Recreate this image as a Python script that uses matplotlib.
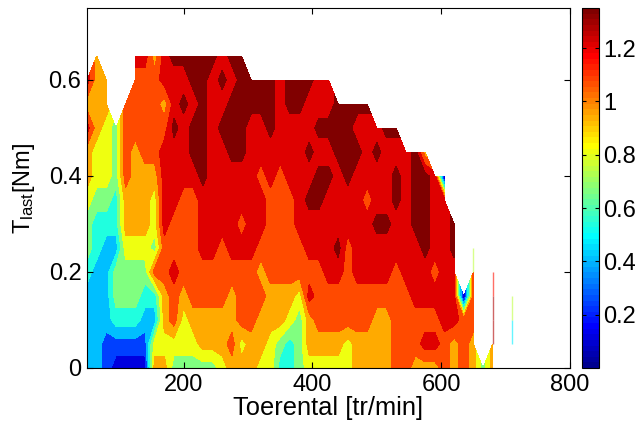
import matplotlib
matplotlib.use('Agg')
import matplotlib.pyplot as plt
import numpy as np
from matplotlib.cm import ScalarMappable
from matplotlib.colors import ListedColormap, Normalize

plt.rcParams['font.family'] = ['Liberation Sans', 'DejaVu Sans']
plt.rcParams['mathtext.default'] = 'regular'

nan = np.nan

speed = np.arange(50, 725, 15)
torque = np.arange(0, 0.70, 0.05)

# efficiency map, one row per torque step
r000 = [.47,.47,.34,.20,.20,.20,.20,1.01,1.01,.74,.74,.74,.74,.74,.88,1.01,1.01,1.01,.88,.88,.61,.61,.74,.88,.88,
        .88,.88,.88,1.01,1.01,1.01,1.01,1.15,1.15,1.01,1.01,1.01,1.15,1.01,1.15,1.01,.74,1.01,nan,nan]
r005 = [.47,.47,.34,.34,.34,.34,.34,.88,.88,.88,.88,.88,1.01,1.01,1.01,1.15,.88,1.01,1.01,.88,.74,.61,.74,1.01,1.01,
        1.01,1.01,.88,1.01,1.01,1.01,1.01,1.15,1.15,1.15,1.28,1.28,1.15,1.01,1.15,1.01,nan,1.01,nan,.34]
r010 = [.47,.47,.47,.61,.61,.61,.47,.47,1.01,1.15,.88,1.01,1.01,1.01,1.01,1.01,1.15,1.15,1.01,1.01,1.01,.88,.74,1.01,1.15,
        1.15,1.15,1.15,1.15,1.15,1.01,1.01,1.15,1.15,1.15,1.15,1.15,1.28,1.28,1.15,1.15,nan,1.28,nan,.47]
r015 = [.47,.47,.47,.74,.74,.74,.61,.61,1.01,1.15,1.01,1.15,1.15,1.15,1.15,1.01,1.15,1.15,1.15,1.01,1.01,1.01,.88,1.28,1.15,
        1.15,1.15,1.15,1.15,1.15,1.15,1.15,1.15,1.15,1.28,1.28,1.28,1.28,1.28,.07,1.15,nan,1.28,nan,.74]
r020 = [.61,.47,.47,.74,.74,.74,.74,1.15,1.15,1.28,1.15,1.15,1.15,1.15,1.15,1.15,1.15,1.15,1.01,1.15,1.15,1.15,1.15,1.15,1.15,
        1.28,1.28,1.15,1.28,1.28,1.28,1.28,1.15,1.28,1.28,1.28,1.15,1.28,1.28,nan,1.15,nan,1.15,nan,nan]
r025 = [.74,.61,.47,.47,.88,.88,.88,.74,1.15,1.15,1.15,1.15,1.28,1.28,1.15,1.28,1.28,1.28,1.15,1.15,1.15,1.15,1.15,1.28,1.28,
        1.28,1.40,1.15,1.28,1.28,1.28,1.28,1.28,1.28,1.28,1.40,1.28,1.28,1.40,nan,.74,nan,nan,nan,nan]
r030 = [.74,.61,.61,.61,1.01,1.01,1.01,.88,1.28,1.15,1.15,1.15,1.28,1.28,1.28,1.28,1.15,1.28,1.28,1.15,1.15,1.15,1.28,1.28,1.28,
        1.28,1.28,1.28,1.28,1.28,1.40,1.40,1.28,1.28,1.40,1.40,1.28,1.28,1.40,nan,nan,nan,nan,nan,nan]
r035 = [.88,.74,.74,.61,1.01,1.01,1.01,.88,1.28,1.28,1.15,1.15,1.28,1.28,1.28,1.28,1.28,1.28,1.28,1.15,1.15,1.15,1.28,1.40,1.40,
        1.28,1.28,1.28,1.28,1.15,1.28,1.28,1.40,1.28,1.40,1.40,1.28,1.28,nan,nan,nan,nan,nan,nan,nan]
r040 = [1.01,.88,.88,.74,1.15,1.01,1.01,1.01,1.28,1.28,1.28,1.28,1.40,1.28,1.28,1.28,1.28,1.28,1.15,1.28,1.15,1.28,1.28,1.28,1.40,
        1.40,1.28,1.40,1.28,1.28,1.28,1.28,1.40,1.28,1.40,1.40,1.28,.07,nan,nan,nan,nan,nan,nan,nan]
r045 = [1.01,.88,.88,.74,1.15,1.01,1.15,1.15,1.28,1.28,1.28,1.40,1.40,1.28,1.28,1.40,1.40,1.28,1.28,1.28,1.28,1.28,1.28,1.40,1.28,
        1.28,1.40,1.40,1.40,1.28,1.40,1.28,1.28,1.28,1.40,1.01,nan,nan,nan,nan,nan,nan,nan,nan,nan]
r050 = [1.28,1.01,.88,.74,1.15,1.15,1.15,1.15,1.15,1.40,1.28,1.40,1.40,1.28,1.40,1.40,1.40,1.28,1.28,1.40,1.28,1.28,1.28,1.28,1.40,
        1.40,1.40,1.40,1.28,1.28,1.28,1.40,1.40,nan,nan,nan,nan,nan,nan,nan,nan,nan,nan,nan,nan]
r055 = [1.01,1.01,1.01,nan,1.15,1.15,1.15,1.15,1.01,1.28,1.40,1.28,1.40,1.28,1.28,1.40,1.40,1.40,1.40,1.40,1.28,1.40,1.40,1.28,1.28,
        1.28,1.40,1.40,1.40,1.40,nan,nan,nan,nan,nan,nan,nan,nan,nan,nan,nan,nan,nan,nan,nan]
r060 = [1.28,1.01,1.01,nan,nan,1.15,1.15,1.15,1.28,1.28,1.28,1.40,1.40,1.28,1.40,1.28,1.40,1.40,1.40,1.40,1.28,1.40,1.40,1.40,1.28,
        1.28,nan,nan,nan,nan,nan,nan,nan,nan,nan,nan,nan,nan,nan,nan,nan,nan,nan,nan,nan]
r065 = [nan,1.01,nan,nan,nan,1.28,1.28,1.01,1.28,1.40,1.40,1.40,1.40,1.40,1.28,1.40,1.40,nan,nan,nan,nan,nan,nan,nan,nan,
        nan,nan,nan,nan,nan,nan,nan,nan,nan,nan,nan,nan,nan,nan,nan,nan,nan,nan,nan,nan]

eff = np.array([r000, r005, r010, r015, r020, r025, r030, r035, r040, r045, r050, r055, r060, r065])

cmax = 1.35
levels = list(np.linspace(0, cmax, 11)) + [9.0]
band_colors = ['#000080', '#0000df', '#0040ff', '#00bfff', '#20ffdf', '#80ff80',
               '#efff10', '#ffaa00', '#ff4a00', '#df0000', '#800000']


def old_jet(n):
    # the jet of the original tool, red stays flat longer than in matplotlib's
    t = (np.arange(n) + 1) / n
    r = np.clip(np.minimum(4 * t - 1.5, -4 * t + 4.5), 0, 1)
    g = np.clip(np.minimum(4 * t - 0.5, -4 * t + 3.5), 0, 1)
    b = np.clip(np.minimum(4 * t + 0.5, -4 * t + 2.5), 0, 1)
    return ListedColormap(np.column_stack([r, g, b]))


jet = old_jet(64)
norm = Normalize(0, cmax)

fig = plt.figure(figsize=(6.36, 4.24), dpi=100)
ax = fig.add_axes([87 / 636, 56 / 424, 483 / 636, 360 / 424])
ax.contourf(speed, torque, eff, levels=levels, colors=band_colors)

# columns with no neighbour have no area, only a faint line is left of them
for k in range(len(speed)):
    for j in range(len(torque) - 1):
        if np.isnan(eff[j, k]) or np.isnan(eff[j + 1, k]):
            continue
        left = eff[j:j + 2, k - 1]
        right = eff[j:j + 2, k + 1] if k + 1 < len(speed) else np.array([nan, nan])
        if np.isnan(left).all() and np.isnan(right).all():
            ax.plot([speed[k], speed[k]], [torque[j], torque[j + 1]], color=jet(norm(eff[j + 1, k])),
                    lw=1, alpha=0.6, solid_capstyle='butt')

ax.set_xlim(50, 800)
ax.set_ylim(0, 0.75)
ax.set_xticks([200, 400, 600, 800])
ax.set_yticks([0, 0.2, 0.4, 0.6])
ax.set_yticklabels(['0', '0.2', '0.4', '0.6'])
ax.tick_params(direction='in', top=True, right=True, length=4, width=0.8, labelsize=17, pad=4)
ax.set_xlabel('Toerental [tr/min]', fontsize=18.4, labelpad=0)
ax.set_ylabel('T$_{last}$[Nm]', fontsize=17, labelpad=8)

cax = fig.add_axes([582 / 636, 56 / 424, 17 / 636, 360 / 424])
sm = ScalarMappable(norm=norm, cmap=jet)
cb = fig.colorbar(sm, cax=cax)
cb.set_ticks([0.2, 0.4, 0.6, 0.8, 1, 1.2])
cb.set_ticklabels(['0.2', '0.4', '0.6', '0.8', '1', '1.2'])
cax.tick_params(direction='in', left=True, right=True, length=3, width=0.8, labelsize=17, pad=3)

fig.savefig('out.png', dpi=100)
